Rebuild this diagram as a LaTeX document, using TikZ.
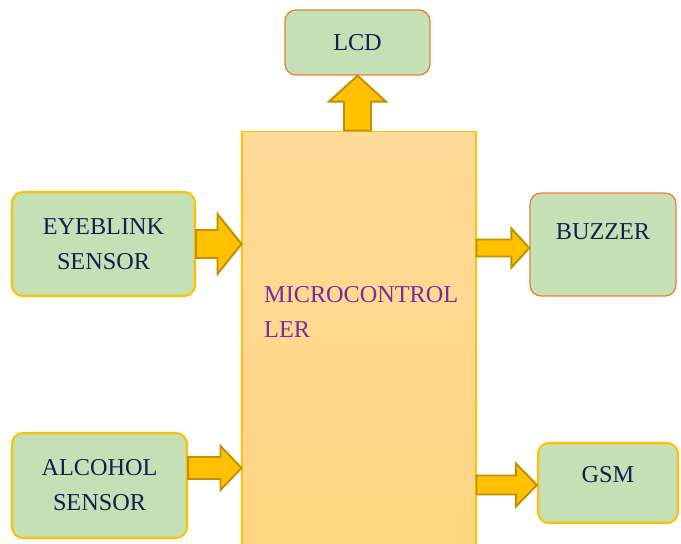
\documentclass[tikz,border=0pt]{standalone}
\usepackage{fontspec}
\setmainfont{Liberation Serif}
\usetikzlibrary{calc}

\definecolor{boxgreen}{HTML}{C5E0B4}
\definecolor{edgeorange}{HTML}{ED7D31}
\definecolor{edgeyellow}{HTML}{FFC000}
\definecolor{arrowfill}{HTML}{FFC000}
\definecolor{arrowedge}{HTML}{BF9000}
\definecolor{mctop}{HTML}{FDDA98}
\definecolor{mcbottom}{HTML}{FFD581}
\definecolor{navytext}{HTML}{0B2352}
\definecolor{mcpurple}{HTML}{7030A0}

% horizontal block arrow: from, to, shaft half, head half, head length
\newcommand{\hblockarrow}[5]{%
  \draw[blockarrow] let \p1=(#1), \p2=(#2) in
    (\x1,\y1+#3) -- (\x2-#5,\y1+#3) -- (\x2-#5,\y1+#4) -- (\x2,\y1)
    -- (\x2-#5,\y1-#4) -- (\x2-#5,\y1-#3) -- (\x1,\y1-#3) -- cycle;}
% vertical block arrow (pointing up)
\newcommand{\vblockarrow}[5]{%
  \draw[blockarrow] let \p1=(#1), \p2=(#2) in
    (\x1-#3,\y1) -- (\x1-#3,\y2-#5) -- (\x1-#4,\y2-#5) -- (\x1,\y2)
    -- (\x1+#4,\y2-#5) -- (\x1+#3,\y2-#5) -- (\x1+#3,\y1) -- cycle;}

\begin{document}
\begin{tikzpicture}[x=0.02cm, y=-0.02cm,
    font=\fontsize{13.8}{20}\selectfont,
    greenbox/.style={rounded corners=0.22cm, fill=boxgreen, text=navytext, align=center},
    outbox/.style={greenbox, draw=edgeorange, line width=0.7pt},
    inbox/.style={greenbox, draw=edgeyellow, line width=1.2pt},
    blockarrow/.style={fill=arrowfill, draw=arrowedge, line width=1.1pt, line join=miter}]
    \useasboundingbox (0,0) rectangle (681,544);

    % Draw the microcontroller
    \node[draw=edgeyellow, line width=0.6pt, top color=mctop, bottom color=mcbottom,
          minimum width=4.68cm, minimum height=8.6cm] (mc) at (359,346) {};
    \node[anchor=west, text=mcpurple, align=left] (mctext) at (258,312)
        {MICROCONTROL\\LER};

    % Draw the blocks
    \node[outbox, minimum width=2.9cm, minimum height=1.3cm] (lcd) at (357.5,42.5) {LCD};
    \node[inbox, minimum width=3.66cm, minimum height=2.08cm] (eye) at (103.5,244)
        {EYEBLINK\\SENSOR};
    \node[outbox, minimum width=2.92cm, minimum height=2.06cm,
          label={[text=navytext, yshift=0.26cm]center:BUZZER}] (buzzer) at (603,244.5) {};
    \node[inbox, minimum width=3.5cm, minimum height=2.1cm] (alc) at (99.5,485.5)
        {ALCOHOL\\SENSOR};
    \node[inbox, minimum width=2.8cm, minimum height=1.6cm,
          label={[text=navytext, yshift=0.16cm]center:GSM}] (gsm) at (608,483) {};

    % Draw the arrows
    \vblockarrow{lcd.south |- mc.north}{lcd.south}{0.27cm}{0.57cm}{0.52cm}
    \hblockarrow{eye.east}{eye.east -| mc.west}{0.28cm}{0.6cm}{0.48cm}
    \hblockarrow{mc.east |- 0,248}{buzzer.west |- 0,248}{0.17cm}{0.39cm}{0.36cm}
    \hblockarrow{alc.east |- 0,468}{mc.west |- 0,468}{0.22cm}{0.44cm}{0.42cm}
    \hblockarrow{mc.east |- 0,485}{gsm.west |- 0,485}{0.19cm}{0.43cm}{0.42cm}
\end{tikzpicture}
\end{document}
